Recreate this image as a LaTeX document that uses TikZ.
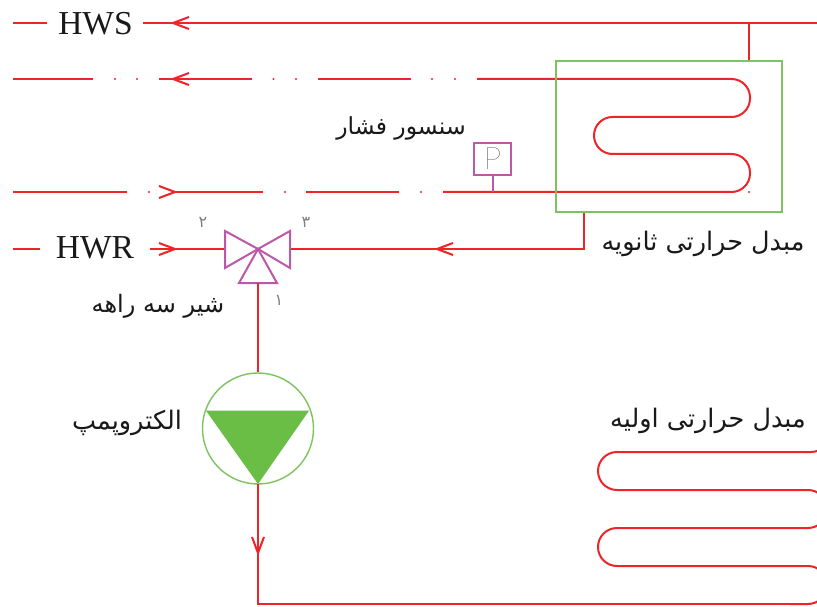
\documentclass[tikz,border=0pt]{standalone}
\usepackage{fontspec}
\setmainfont{Liberation Serif}
\newfontfamily\arabicfont[Script=Arabic]{DejaVu Sans}
\newfontfamily\thinsans{Lato Hairline}
\TeXXeTstate=1
\definecolor{pipered}{HTML}{EE2429}
\definecolor{valvepurple}{HTML}{BC58A8}
\definecolor{hxgreen}{HTML}{7DC35F}
\definecolor{pumpgreen}{HTML}{6ABD45}
\definecolor{thingray}{HTML}{808080}
\tikzset{
  pipe/.style={draw=pipered,line width=2pt},
  coil/.style={pipe,rounded corners=18.5pt},
  valvepart/.style={draw=valvepurple,line width=2pt,line join=miter},
  chev/.pic={\draw[pipe,line join=miter] (-16,-6)--(0,0)--(-16,6);},
  engl/.style={inner sep=0pt,font=\fontsize{33.5}{33}\selectfont,text=black!90},
  fa/.style={inner sep=0pt,font=\arabicfont\fontsize{25.5}{30}\selectfont,text=black!90},
  digit/.style={inner sep=0pt,font=\arabicfont\fontsize{16}{18}\selectfont,text=thingray},
  dot/.style={circle,fill=pipered,inner sep=0pt,minimum size=2.2pt},
}
\begin{document}
\begin{tikzpicture}[x=1pt,y=-1pt]
\useasboundingbox (0,0) rectangle (817,607);
\clip (0,0) rectangle (817,607);
\fill[white] (0,0) rectangle (817,607);
% labels
\node[engl] (hws) at (95.5,23.5) {HWS};
\node[engl] (hwr) at (95,248) {HWR};
\node[fa,font=\arabicfont\fontsize{23.5}{30}\selectfont] (tsensor) at (401,128) {\beginR سنسور فشار\endR};
\node[fa] (tsec) at (703,244) {\beginR مبدل حرارتی ثانویه\endR};
\node[fa,font=\arabicfont\fontsize{24}{30}\selectfont] (tvalve) at (158,306) {\beginR شیر سه راهه\endR};
\node[fa] (tpump) at (127,423) {\beginR الکتروپمپ\endR};
\node[fa] (tprim) at (708,421) {\beginR مبدل حرارتی اولیه\endR};
\node[digit] (d2) at (203,222) {۲};
\node[digit] (d3) at (306,222) {۳};
\node[digit] (d1) at (279,300) {۱};
% key coordinates
\coordinate (s0) at (13,23); \coordinate (s1) at (47,23); \coordinate (s2) at (143,23); \coordinate (s3) at (817,23);
\coordinate (stap) at (749,23); \coordinate (stapb) at (749,61);
\coordinate (rtap) at (584,212); \coordinate (rcorner) at (584,249);
\coordinate (vc) at (258,249);
\coordinate (vl) at (225,249); \coordinate (vr) at (290,249); \coordinate (vb) at (258,283);
\coordinate (r0) at (13,249); \coordinate (r1) at (40,249); \coordinate (r2) at (150,249);
\coordinate (a0) at (13,79); \coordinate (a1) at (93,79); \coordinate (a2) at (159,79); \coordinate (a3) at (252,79); \coordinate (a4) at (318,79); \coordinate (a5) at (411,79); \coordinate (a6) at (477,79);
\coordinate (b0) at (13,192); \coordinate (b1) at (127,192); \coordinate (b2) at (175,192); \coordinate (b3) at (263,192); \coordinate (b4) at (306,192); \coordinate (b5) at (399,192); \coordinate (b6) at (443,192);
% pipes
\draw[pipe] (s0)--(s1);
\draw[pipe] (s2)--(s3);
\draw[pipe] (stap)--(stapb);
\draw[pipe] (a0)--(a1);
\draw[pipe] (a2)--(a3);
\draw[pipe] (a4)--(a5);
\draw[pipe] (b0)--(b1);
\draw[pipe] (b2)--(b3);
\draw[pipe] (b4)--(b5);
\draw[pipe] (r0)--(r1);
\draw[pipe] (r2)--(vl);
\draw[pipe] (vr)--(rcorner)--(rtap);
% secondary coil
\draw[coil] (a6)--(750,79)--(750,117)--(594,117)--(594,154)--(750,154)--(750,192)--(b6);
% dots
\foreach \n/\x/\y in {p1/115/79,p2/137/79,p3/273.5/79,p4/296/79,p5/432/79,p6/455/79,p7/149/192,p8/285/192,p9/421/192,p10/749/192}
  \node[dot] (\n) at (\x,\y) {};
% heat exchanger box
\node[draw=hxgreen,line width=2pt,minimum width=226pt,minimum height=151pt,inner sep=0pt] (hx) at (669,136.5) {};
% arrows
\pic[rotate=180] at (173,23) {chev};
\pic[rotate=180] at (173,79) {chev};
\pic at (175,192) {chev};
\pic at (175,249) {chev};
\pic[rotate=180] at (437,249) {chev};
% sensor
\node[draw=valvepurple,line width=2pt,minimum width=37pt,minimum height=32pt,inner sep=0pt,font=\thinsans\fontsize{31}{31}\selectfont,text=black] (sensor) at (492.5,159) {P};
\coordinate (sensorfoot) at (492.5,192);
\draw[valvepart] (sensor.south)--(sensorfoot);
% valve
\draw[valvepart] (vc)--(225,231)--(225,268)--cycle;
\draw[valvepart] (vc)--(290,231)--(290,268)--cycle;
\draw[valvepart] (vc)--(239,283)--(277,283)--cycle;
% pump
\node[circle,draw=hxgreen,line width=1.4pt,minimum size=111pt,inner sep=0pt] (pump) at (258,428.5) {};
\fill[pumpgreen] (206,410.7)--(309,410.7)--(258,484)--cycle;
\coordinate (pumpout) at (258,484);
\coordinate (low) at (258,604);
\draw[pipe] (vb)--(pump.north);
\draw[pipe] (pumpout)--(low)--(800,604);
\pic[rotate=-90] at (258,553) {chev};
% primary coil
\draw[coil,rounded corners=19pt] (830,433)--(830,452)--(598,452)--(598,490)--(827,490)--(827,528)--(598,528)--(598,566)--(827,566)--(827,604)--(790,604);
\end{tikzpicture}
\end{document}
